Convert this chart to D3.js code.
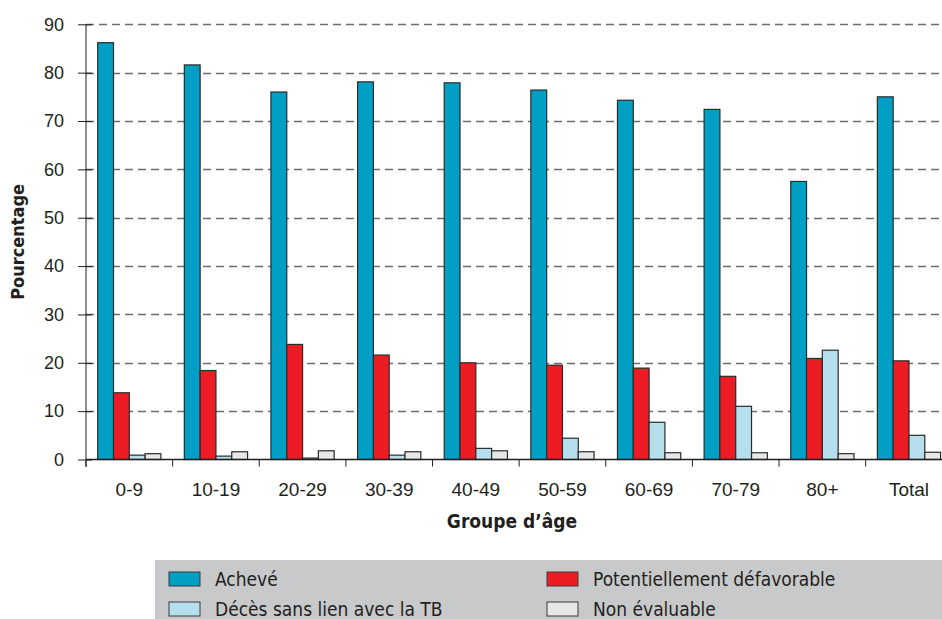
<!DOCTYPE html>
<html>
<head>
<meta charset="utf-8">
<script src="https://cdn.jsdelivr.net/npm/d3@7"></script>
<style>
  body { margin: 0; background: #fff; }
  svg { display: block; font-family: "Liberation Sans Narrow", "DejaVu Sans Condensed", "Roboto", sans-serif; }
</style>
</head>
<body>
<div id="chart"></div>
<script>
// age groups and the four outcome series (percent)
const groups = ["0-9", "10-19", "20-29", "30-39", "40-49", "50-59", "60-69", "70-79", "80+", "Total"];
const seriesNames = ["Achevé", "Potentiellement défavorable", "Décès sans lien avec la TB", "Non évaluable"];
const acheve = [86.2, 81.6, 76.0, 78.1, 77.9, 76.4, 74.3, 72.4, 57.5, 75.0];
const defavorable = [13.8, 18.4, 23.8, 21.6, 20.0, 19.5, 18.9, 17.2, 20.9, 20.4];
const deces = [0.9, 0.7, 0.3, 0.9, 2.3, 4.4, 7.7, 11.0, 22.6, 5.0];
const nonEval = [1.2, 1.6, 1.8, 1.6, 1.8, 1.6, 1.4, 1.4, 1.2, 1.5];
const yTicks = [0, 10, 20, 30, 40, 50, 60, 70, 80, 90];

const colors = ["#009fc3", "#ed1c24", "#b6dfee", "#e6e7e8"];
const allSeries = [acheve, defavorable, deces, nonEval];

const width = 942, height = 619;
const textColor = "#231f20";

const svg = d3.select("#chart").append("svg")
    .attr("width", width)
    .attr("height", height);

// plot area runs past the right edge, like the source
const x = d3.scaleBand()
    .domain(groups)
    .range([86, 952.3])
    .paddingInner(0)
    .paddingOuter(0);

const xInner = d3.scaleBand()
    .domain(d3.range(seriesNames.length))
    .range([0, x.bandwidth()])
    .paddingOuter(0.74)
    .paddingInner(0);

const y = d3.scaleLinear()
    .domain([0, 90])
    .range([459.5, 24.3]);

// dashed gridlines
svg.append("g")
    .selectAll("line")
    .data(yTicks.filter(d => d > 0))
    .join("line")
    .attr("x1", 86)
    .attr("x2", width)
    .attr("y1", d => Math.round(y(d)) + 0.5)
    .attr("y2", d => Math.round(y(d)) + 0.5)
    .attr("stroke", "#6d6e71")
    .attr("stroke-width", 1.3)
    .attr("stroke-dasharray", "8,5");

// bars
const groupG = svg.append("g")
    .selectAll("g")
    .data(groups)
    .join("g")
    .attr("transform", d => `translate(${x(d)},0)`);

groupG.selectAll("rect")
    .data((g, gi) => allSeries.map((s, si) => ({ si, value: s[gi] })))
    .join("rect")
    .attr("x", d => xInner(d.si))
    .attr("width", xInner.bandwidth())
    .attr("y", d => y(d.value))
    .attr("height", d => y(0) - y(d.value))
    .attr("fill", d => colors[d.si])
    .attr("stroke", "#2b2b2b")
    .attr("stroke-width", 1.2);

// y axis
const yAxis = svg.append("g")
    .attr("transform", "translate(86,0)")
    .call(d3.axisLeft(y).tickValues(yTicks).tickSize(8).tickPadding(14));
yAxis.select(".domain").attr("d", `M0,${y(90)}V467`).attr("stroke", textColor);
yAxis.selectAll(".tick line").attr("x2", -8).attr("x1", 6).attr("stroke", textColor);
yAxis.selectAll("text")
    .attr("fill", textColor)
    .attr("font-size", 18)
    .attr("font-family", null);

// x axis
const xAxis = svg.append("g")
    .attr("transform", `translate(0,${y(0)})`)
    .call(d3.axisBottom(x).tickSize(0).tickPadding(23));
xAxis.select(".domain").attr("d", `M86,0H${width}`).attr("stroke", textColor).attr("stroke-width", 1.3);
xAxis.selectAll("text")
    .attr("fill", textColor)
    .attr("font-size", 19)
    .attr("font-family", null);

// tick marks at band boundaries
svg.append("g")
    .selectAll("line")
    .data(groups)
    .join("line")
    .attr("x1", d => x(d))
    .attr("x2", d => x(d))
    .attr("y1", y(0))
    .attr("y2", y(0) + 7)
    .attr("stroke", textColor);

// axis titles
svg.append("text")
    .attr("transform", `translate(24,${y(45)}) rotate(-90)`)
    .attr("text-anchor", "middle")
    .attr("font-weight", "bold")
    .attr("font-size", 18)
    .attr("fill", textColor)
    .text("Pourcentage");

svg.append("text")
    .attr("x", 512)
    .attr("y", 528)
    .attr("text-anchor", "middle")
    .attr("font-weight", "bold")
    .attr("font-size", 19)
    .attr("fill", textColor)
    .text("Groupe d’âge");

// legend
const legend = svg.append("g");
legend.append("rect")
    .attr("x", 155)
    .attr("y", 560)
    .attr("width", width - 155)
    .attr("height", height - 560)
    .attr("fill", "#c8c9cb");

const legendPos = [[169, 572], [547, 572], [169, 602], [547, 602]];
const order = [0, 1, 2, 3];
const item = legend.selectAll("g.item")
    .data(order)
    .join("g")
    .attr("class", "item")
    .attr("transform", (d, i) => `translate(${legendPos[i][0]},${legendPos[i][1]})`);

item.append("rect")
    .attr("width", 31)
    .attr("height", 14)
    .attr("fill", d => colors[d])
    .attr("stroke", "#3a3a3a")
    .attr("stroke-width", 1);

item.append("text")
    .attr("x", 46)
    .attr("y", 7)
    .attr("dy", "0.35em")
    .attr("font-size", 19)
    .attr("fill", textColor)
    .text(d => seriesNames[d]);
</script>
</body>
</html>
